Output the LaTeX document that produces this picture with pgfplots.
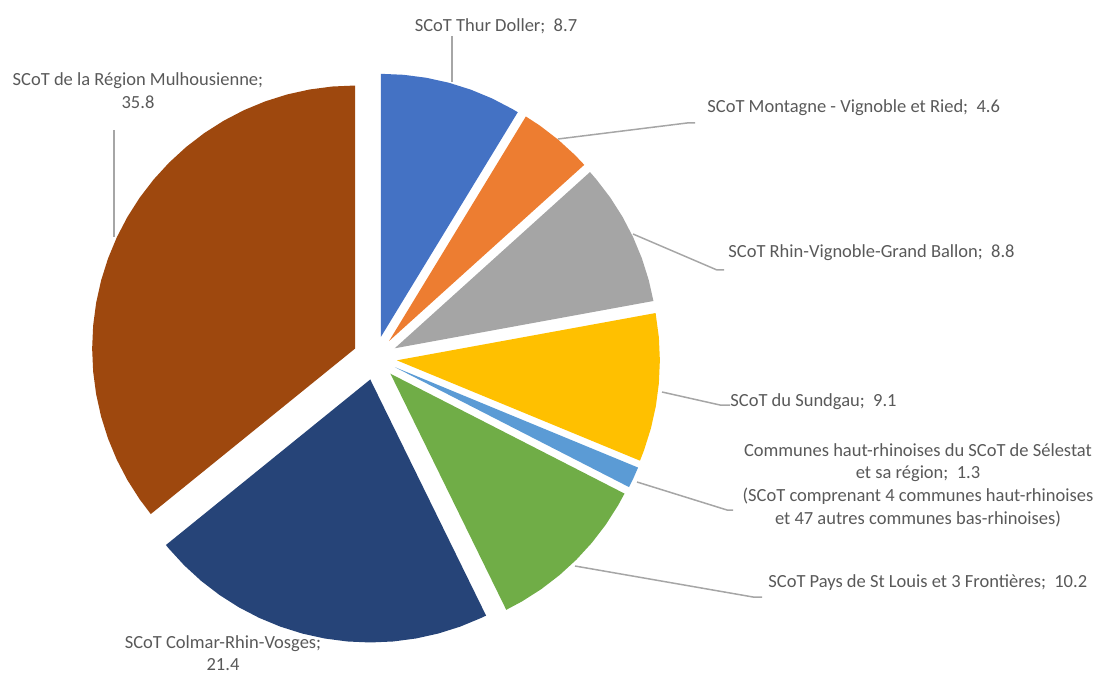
\documentclass[border=0pt]{standalone}
\usepackage{pgfplots}
\pgfplotsset{compat=1.18}
\usepackage{fontspec}
\setmainfont{Carlito}
\definecolor{cThur}{HTML}{4472C4}
\definecolor{cMont}{HTML}{ED7D31}
\definecolor{cRhin}{HTML}{A5A5A5}
\definecolor{cSund}{HTML}{FFC000}
\definecolor{cSel}{HTML}{5B9BD5}
\definecolor{cStL}{HTML}{70AD47}
\definecolor{cColm}{HTML}{264478}
\definecolor{cMulh}{HTML}{9E480E}
\definecolor{txt}{HTML}{595959}
\definecolor{lead}{HTML}{A6A6A6}
\newcommand\lbl{\fontsize{9.25pt}{11.3pt}\selectfont}
\begin{document}
\begin{tikzpicture}
\begin{axis}[x=0.5pt, y=0.5pt, xmin=-375, xmax=723, ymin=-318, ymax=358,
  scale only axis, hide axis, clip=false, enlargelimits=false]
% slices: values 8.7, 4.6, 8.8, 9.1, 1.3, 10.2, 21.4, 35.8 (clockwise from top), radius 263
\addplot[fill=cThur, draw=none, data cs=polar, xshift=2.97pt, yshift=10.59pt] coordinates {
 (0,0) (90,263) (85,263) (80,263) (75,263) (70,263) (65,263) (60,263) (58.65,263)};
\addplot[fill=cMont, draw=none, data cs=polar, xshift=7.02pt, yshift=8.47pt] coordinates {
 (0,0) (58.65,263) (55,263) (50,263) (45,263) (42.07,263)};
\addplot[fill=cRhin, draw=none, data cs=polar, xshift=9.87pt, yshift=4.86pt] coordinates {
 (0,0) (42.07,263) (40,263) (35,263) (30,263) (25,263) (20,263) (15,263) (10.36,263)};
\addplot[fill=cSund, draw=none, data cs=polar, xshift=10.94pt, yshift=-1.16pt] coordinates {
 (0,0) (10.36,263) (5,263) (0,263) (-5,263) (-10,263) (-15,263) (-20,263) (-22.43,263)};
\addplot[fill=cSel, draw=none, data cs=polar, xshift=9.99pt, yshift=-4.61pt] coordinates {
 (0,0) (-22.43,263) (-25,263) (-27.12,263)};
\addplot[fill=cStL, draw=none, data cs=polar, xshift=7.71pt, yshift=-7.85pt] coordinates {
 (0,0) (-27.12,263) (-30,263) (-35,263) (-40,263) (-45,263) (-50,263) (-55,263) (-60,263) (-63.87,263)};
\addplot[fill=cColm, draw=none, data cs=polar, xshift=-2.37pt, yshift=-10.74pt] coordinates {
 (0,0) (-63.87,263) (-65,263) (-70,263) (-75,263) (-80,263) (-85,263) (-90,263) (-95,263)
 (-100,263) (-105,263) (-110,263) (-115,263) (-120,263) (-125,263) (-130,263) (-135,263)
 (-140,263) (-140.99,263)};
\addplot[fill=cMulh, draw=none, data cs=polar, xshift=-9.93pt, yshift=4.74pt] coordinates {
 (0,0) (-140.99,263) (-145,263) (-150,263) (-155,263) (-160,263) (-165,263) (-170,263)
 (-175,263) (-180,263) (-185,263) (-190,263) (-195,263) (-200,263) (-205,263) (-210,263)
 (-215,263) (-220,263) (-225,263) (-230,263) (-235,263) (-240,263) (-245,263) (-250,263)
 (-255,263) (-260,263) (-265,263) (-270,263)};
% leader lines
\addplot[lead, line width=0.75pt] coordinates {(77,322) (77,276)};
\addplot[lead, line width=0.75pt] coordinates {(183,219) (312,235) (320,235)};
\addplot[lead, line width=0.75pt] coordinates {(258,124) (342,88) (349,88)};
\addplot[lead, line width=0.75pt] coordinates {(287,-34) (345,-47) (355,-47)};
\addplot[lead, line width=0.75pt] coordinates {(262,-124) (352,-152) (358,-152)};
\addplot[lead, line width=0.75pt] coordinates {(200,-208) (378,-239) (387,-239)};
\addplot[lead, line width=0.75pt] coordinates {(-261,228) (-261,121)};
% labels
\node[inner sep=0pt, text=txt, font=\lbl] at (axis cs:121,332) {SCoT Thur Doller;\ \ 8.7};
\node[inner sep=0pt, anchor=west, text=txt, font=\lbl] at (axis cs:332,250) {SCoT Montagne - Vignoble et Ried;\ \ 4.6};
\node[inner sep=0pt, anchor=west, text=txt, font=\lbl] at (axis cs:353,105) {SCoT Rhin-Vignoble-Grand Ballon;\ \ 8.8};
\node[inner sep=0pt, anchor=west, text=txt, font=\lbl] at (axis cs:355,-44) {SCoT du Sundgau;\ \ 9.1};
\node[inner sep=0pt, align=center, text=txt, font=\lbl] at (axis cs:543,-127) {Communes haut-rhinoises du SCoT de Sélestat\\ et sa région;\ \ 1.3\\ (SCoT comprenant 4 communes haut-rhinoises\\ et 47 autres communes bas-rhinoises)};
\node[inner sep=0pt, anchor=west, text=txt, font=\lbl] at (axis cs:393,-225) {SCoT Pays de St Louis et 3 Frontières;\ \ 10.2};
\node[inner sep=0pt, align=center, text=txt, font=\lbl] at (axis cs:-152,-295) {SCoT Colmar-Rhin-Vosges;\\ 21.4};
\node[inner sep=0pt, align=center, text=txt, font=\lbl] at (axis cs:-237,267.5) {SCoT de la Région Mulhousienne;\\ 35.8};
\end{axis}
\pgfresetboundingbox
\path[use as bounding box] (current axis.south west) rectangle (current axis.north east);
\end{tikzpicture}
\end{document}
